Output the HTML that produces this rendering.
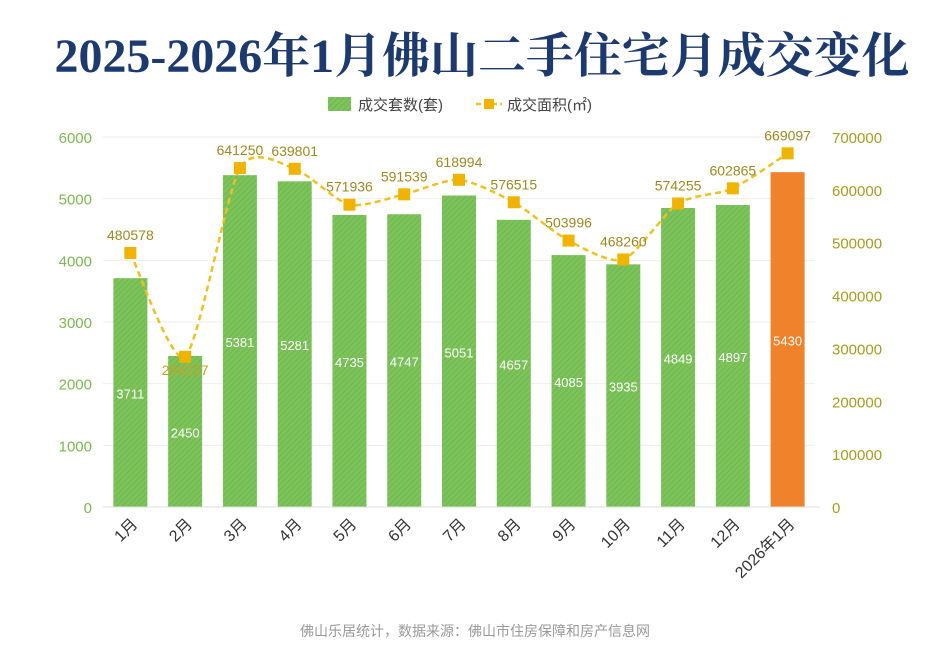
<!DOCTYPE html>
<html><head><meta charset="utf-8"><style>
body{margin:0;background:#fff;width:950px;height:652px;overflow:hidden}
svg text{font-family:"Liberation Sans","Noto Sans CJK SC",sans-serif}
</style></head><body>
<svg id="c" width="950" height="652">
<defs>
<pattern id="hatch" width="4" height="4" patternUnits="userSpaceOnUse" patternTransform="rotate(45)">
<rect width="4" height="4" fill="#7cc35a"/><line x1="0" y1="0" x2="0" y2="4" stroke="#6aae48" stroke-width="1.2"/>
</pattern>
</defs>
<text x="482" y="72" text-anchor="middle" font-size="48" font-weight="bold" fill="#1d3a6e" textLength="855" lengthAdjust="spacingAndGlyphs" style="font-family:'Liberation Serif','Noto Serif CJK SC',serif">2025-2026年1月佛山二手住宅月成交变化</text>
<g>
<rect x="328" y="97" width="23" height="14" fill="url(#hatch)"/>
<text x="358" y="110" font-size="15" fill="#444">成交套数(套)</text>
<line x1="476" y1="104" x2="502" y2="104" stroke="#f0c020" stroke-width="2.5" stroke-dasharray="5,3"/>
<rect x="484" y="99" width="10" height="10" fill="#f0b400"/>
<text x="507" y="110" font-size="15" fill="#444">成交面积(㎡)</text>
</g>
<g id="grid"></g><g id="bars"></g><g id="line"></g><g id="axes"></g>
<text x="475" y="636" text-anchor="middle" font-size="14" fill="#999">佛山乐居统计，数据来源：佛山市住房保障和房产信息网</text>
</svg>
<script>
const categories=["1月","2月","3月","4月","5月","6月","7月","8月","9月","10月","11月","12月","2026年1月"];
const units=[3711,2450,5381,5281,4735,4747,5051,4657,4085,3935,4849,4897,5430];
const area=[480578,284237,641250,639801,571936,591539,618994,576515,503996,468260,574255,602865,669097];
const leftTicks=[0,1000,2000,3000,4000,5000,6000];
const rightTicks=[0,100000,200000,300000,400000,500000,600000,700000];
const NS="http://www.w3.org/2000/svg";
const X0=103,X1=815,Y0=507,Y1=137;
const slot=(X1-X0)/categories.length;
const xc=i=>X0+slot*(i+0.5);
const yL=v=>Y0-v/6000*(Y0-Y1);
const yR=v=>Y0-v/700000*(Y0-Y1);
function mk(tag,attrs,parent,txt){const e=document.createElementNS(NS,tag);for(const k in attrs)e.setAttribute(k,attrs[k]);if(txt!==undefined)e.textContent=txt;document.getElementById(parent).appendChild(e);return e;}
leftTicks.forEach(t=>{
 if(t>0){const g=mk('line',{x1:X0,x2:X1,y1:yL(t),y2:yL(t),stroke:'#eee'},'grid');
 
 }
 const e=mk('text',{x:92,y:yL(t)+6,'text-anchor':'end','font-size':15,fill:'#7cb850'},'axes',t);
 
 
});
rightTicks.forEach(t=>{
 const e=mk('text',{x:832,y:yR(t)+6,'font-size':15,fill:'#a89c1c'},'axes',t);
 
 
});
const ax=mk('line',{x1:X0,x2:X1+5,y1:Y0,y2:Y0,stroke:'#ddd'},'axes');


const bw=34;
units.forEach((v,i)=>{
 const last=i===units.length-1;
 const r=mk('rect',{x:xc(i)-bw/2,y:yL(v),width:bw,height:Y0-yL(v),fill:last?'#f0822c':'url(#hatch)'},'bars');
 
 
 const t=mk('text',{x:xc(i),y:(yL(v)+Y0)/2+6,'text-anchor':'middle','font-size':13,fill:'#fff'},'bars',v);
 
 
 const l=mk('text',{x:0,y:0,'text-anchor':'end','font-size':16,fill:'#333',transform:`translate(${xc(i)+8},${Y0+18}) rotate(-45)`},'axes',categories[i]);
 
 
});
const pts=area.map((v,i)=>[xc(i),yR(v)]);
let d=`M${pts[0][0]},${pts[0][1]}`;
for(let i=0;i<pts.length-1;i++){
 const p0=pts[Math.max(0,i-1)],p1=pts[i],p2=pts[i+1],p3=pts[Math.min(pts.length-1,i+2)];
 const k=0.12;
 d+=` C${p1[0]+(p2[0]-p0[0])*k},${p1[1]+(p2[1]-p0[1])*k} ${p2[0]-(p3[0]-p1[0])*k},${p2[1]-(p3[1]-p1[1])*k} ${p2[0]},${p2[1]}`;
}
const path=mk('path',{d:d,fill:'none',stroke:'#f0c020','stroke-width':2.5,'stroke-dasharray':'6,4'},'line');


area.forEach((v,i)=>{
 const m=mk('rect',{x:xc(i)-6,y:yR(v)-6,width:12,height:12,fill:'#f0b400'},'line');
 
 
 const t=mk('text',{x:xc(i),y:yR(v)-13,'text-anchor':'middle','font-size':14,fill:i===1?'#c9a020':'#a08820'},'line',v);
 if(i===1)t.setAttribute('y',yR(v)+18);
 
 
});
</script>
</body></html>
